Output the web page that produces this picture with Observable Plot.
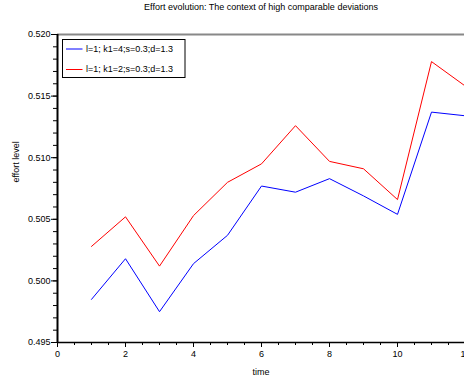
<!DOCTYPE html>
<html>
<head>
<meta charset="utf-8">
<script src="https://cdn.jsdelivr.net/npm/d3@7"></script>
<script src="https://cdn.jsdelivr.net/npm/@observablehq/plot@0.6"></script>
<style>
  html, body { margin: 0; padding: 0; background: #fff; }
  #chart svg { display: block; }
</style>
</head>
<body>
<div id="chart"></div>
<script>
// Effort level over time for two parameter settings
const time = [1, 2, 3, 4, 5, 6, 7, 8, 9, 10, 11, 12];
const effortK4 = [0.4985, 0.5018, 0.4975, 0.5014, 0.5037, 0.5077, 0.5072, 0.5083, 0.5069, 0.5054, 0.5137, 0.5134];
const effortK2 = [0.5028, 0.5052, 0.5012, 0.5053, 0.5080, 0.5095, 0.5126, 0.5097, 0.5091, 0.5066, 0.5178, 0.5158];
const seriesLabels = ["l=1; k1=4;s=0.3;d=1.3", "l=1; k1=2;s=0.3;d=1.3"];
const seriesColors = ["#0000ff", "#ff0000"];

const xTicks = [0, 2, 4, 6, 8, 10, 12];
const xMinorTicks = d3.range(0, 12.01, 0.5);
const yTicks = [0.495, 0.500, 0.505, 0.510, 0.515, 0.520];
const yMinorTicks = d3.range(0, 26).map(i => 0.495 + i * 0.001);

const titleText = "Effort evolution: The context of high comparable deviations";
const xLabel = "time";
const yLabel = "effort level";

const rows = [
  ...time.map((t, i) => ({time: t, effort: effortK4[i], series: seriesLabels[0]})),
  ...time.map((t, i) => ({time: t, effort: effortK2[i], series: seriesLabels[1]}))
];

const font = "'Liberation Sans', Arial, Helvetica, sans-serif";

const chart = Plot.plot({
  width: 464,
  height: 383,
  marginLeft: 57,
  marginTop: 34,
  marginBottom: 41,
  marginRight: 0,
  style: {fontFamily: font, fontSize: "9px", background: "#fff", color: "#000"},
  x: {domain: [0, 12], range: [57, 465]},
  y: {domain: [0.495, 0.520], range: [342, 34]},
  color: {domain: seriesLabels, range: seriesColors},
  marks: [
    // frame: grey top edge, black left and bottom axes
    Plot.ruleY([0.520], {x1: 0, x2: 12, stroke: "#888", strokeWidth: 2}),
    Plot.axisY(yMinorTicks, {tickSize: 4, tickFormat: () => "", label: null}),
    Plot.axisY(yTicks, {tickSize: 6, tickPadding: 1, tickFormat: d3.format(".3f"), label: null}),
    Plot.axisX(xMinorTicks, {tickSize: 3, tickFormat: () => "", label: null}),
    Plot.axisX(xTicks, {tickSize: 5, tickPadding: 3, tickFormat: d => String(d), label: null}),
    Plot.ruleX([0], {y1: 0.495, y2: 0.520, stroke: "#000", strokeWidth: 2}),
    Plot.ruleY([0.495], {x1: 0, x2: 12, stroke: "#000", strokeWidth: 1.5}),
    // data series
    Plot.line(rows, {x: "time", y: "effort", z: "series", stroke: "series", strokeWidth: 1}),
    // titles
    Plot.text([titleText], {frameAnchor: "top", dy: -27.5, lineAnchor: "middle", fontSize: 9}),
    Plot.text([xLabel], {frameAnchor: "bottom", dy: 30, lineAnchor: "middle", fontSize: 9}),
    Plot.text([yLabel], {frameAnchor: "left", dx: -41, dy: -6, rotate: -90, lineAnchor: "middle", fontSize: 9})
  ]
});

document.getElementById("chart").appendChild(chart);

// legend box in the upper-left corner of the plot area
const svg = d3.select(chart);
const legend = svg.append("g")
  .attr("font-family", font)
  .attr("font-size", 9)
  .attr("text-anchor", "start");
legend.append("rect")
  .attr("x", 62.5).attr("y", 39.5).attr("width", 122.5).attr("height", 38)
  .attr("fill", "#fff").attr("stroke", "#000").attr("stroke-width", 1);
seriesLabels.forEach((label, i) => {
  const yPos = 49 + i * 20.5;
  legend.append("line")
    .attr("x1", 66).attr("x2", 82.5).attr("y1", yPos).attr("y2", yPos)
    .attr("stroke", seriesColors[i]).attr("stroke-width", 1);
  legend.append("text")
    .attr("x", 86).attr("y", yPos).attr("dy", "0.32em")
    .attr("text-anchor", "start")
    .attr("fill", "#000").text(label);
});
</script>
</body>
</html>
